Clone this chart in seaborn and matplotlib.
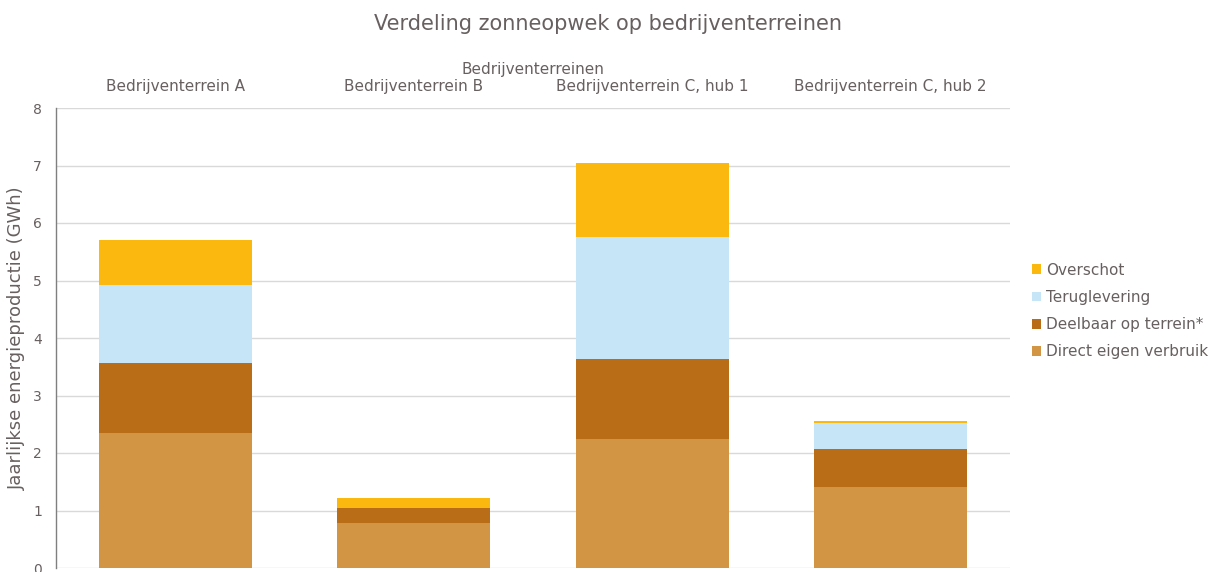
import numpy as np
import pandas as pd
import matplotlib
matplotlib.use("Agg")
import matplotlib.pyplot as plt
from matplotlib.patches import Patch
import seaborn as sns

# data (GWh)
terreinen = ['Bedrijventerrein A', 'Bedrijventerrein B',
             'Bedrijventerrein C, hub 1', 'Bedrijventerrein C, hub 2']
direct = [2.35, 0.78, 2.24, 1.41]
deelbaar = [1.22, 0.26, 1.39, 0.66]
teruglevering = [1.35, 0.00, 2.13, 0.46]
overschot = [0.78, 0.17, 1.28, 0.03]

series = ['Direct eigen verbruik', 'Deelbaar op terrein*', 'Teruglevering', 'Overschot']
colors = ['#D19543', '#B96D16', '#C6E6F7', '#FBB90F']
text_color = '#686060'

sns.set_style('white')
plt.rcParams['font.family'] = ['DejaVu Sans']

df = pd.DataFrame({'terrein': terreinen, series[0]: direct, series[1]: deelbaar,
                   series[2]: teruglevering, series[3]: overschot})
# cumulative sums so the bars can be stacked by overlapping
cum = df[series].cumsum(axis=1)

fig = plt.figure(figsize=(12.08, 5.72), dpi=100)
ax = fig.add_axes([56 / 1208, 4 / 572, 954 / 1208, 460 / 572])

for name, color in reversed(list(zip(series, colors))):
    sns.barplot(x=df['terrein'], y=cum[name], color=color, width=0.64,
                saturation=1, ax=ax, linewidth=0, order=terreinen)

ax.set_ylim(0, 8)
ax.set_xlim(-0.5, 3.5)
ax.set_yticks(range(0, 9))
ax.grid(axis='y', color='#D9D9D9', linewidth=1)
ax.set_axisbelow(True)
for s in ['top', 'right', 'bottom']:
    ax.spines[s].set_visible(False)
ax.spines['left'].set_color('#7F7F7F')
ax.spines['left'].set_linewidth(1)

ax.xaxis.tick_top()
ax.xaxis.set_label_position('top')
ax.tick_params(axis='x', length=0, pad=10, labelsize=11, labelcolor=text_color)
ax.tick_params(axis='y', length=0, pad=10, labelsize=10, labelcolor=text_color)
ax.set_xlabel('Bedrijventerreinen', fontsize=11, color=text_color, labelpad=4)
ax.set_ylabel('Jaarlijkse energieproductie (GWh)', fontsize=13, color=text_color, labelpad=5)

fig.text(608 / 1208, 1 - 24 / 572, 'Verdeling zonneopwek op bedrijventerreinen',
         ha='center', va='center', fontsize=15, color=text_color)

handles = [Patch(facecolor=c, edgecolor='none') for c in reversed(colors)]
leg = fig.legend(handles, list(reversed(series)), loc='center left',
                 bbox_to_anchor=(1026 / 1208, 1 - 311 / 572), frameon=False,
                 fontsize=11, handlelength=0.6, handleheight=0.6,
                 handletextpad=0.3, labelspacing=0.8, borderaxespad=0)
for t in leg.get_texts():
    t.set_color(text_color)

fig.savefig('out.png', dpi=100)
